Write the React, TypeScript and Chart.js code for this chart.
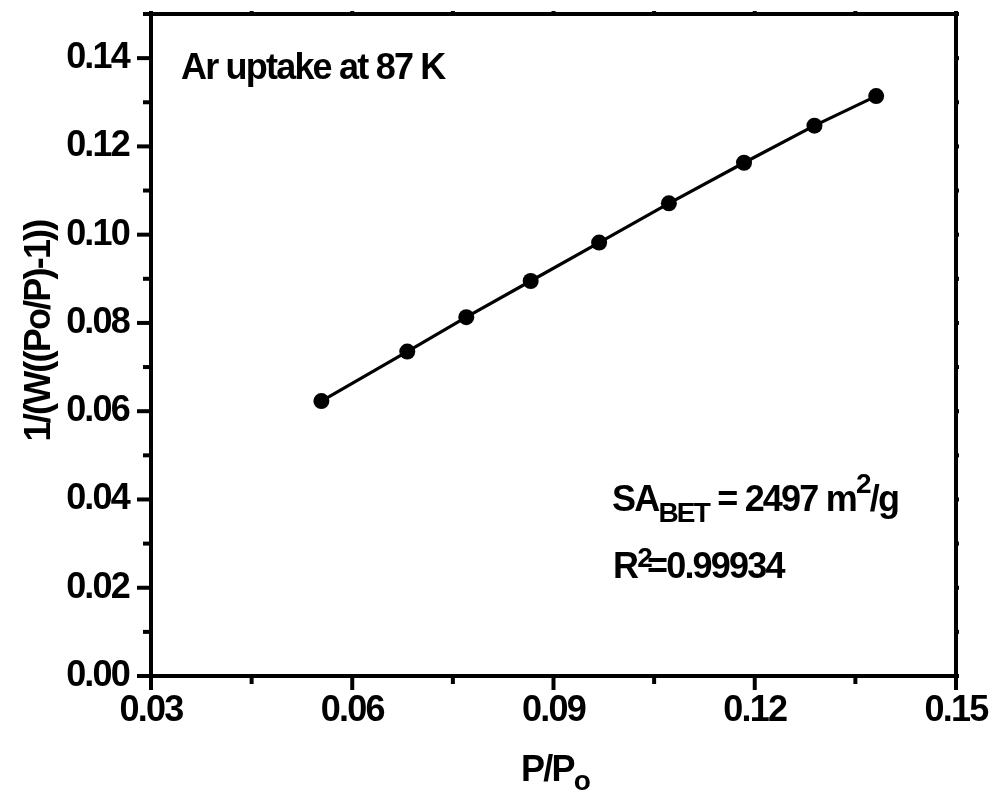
import React, { useEffect, useRef } from 'react';
import { Chart, registerables } from 'chart.js';

Chart.register(...registerables);

// P/Po values (x) and 1/(W((Po/P)-1)) values (y)
const pressureRatio = [0.0554, 0.0682, 0.077, 0.0866, 0.0968, 0.1072, 0.1184, 0.1289, 0.1381];
const betValue = [0.0623, 0.0735, 0.0813, 0.0895, 0.0982, 0.1071, 0.1163, 0.1247, 0.1314];
const xTickLabels = ['0.03', '0.06', '0.09', '0.12', '0.15'];
const yTickLabels = ['0.00', '0.02', '0.04', '0.06', '0.08', '0.10', '0.12', '0.14'];

const FAMILY = '"Liberation Sans", Arial, Helvetica, sans-serif';
const SPACING = '-1.8px';

type Part = [string, number, number, number?];

function drawSeq(ctx: CanvasRenderingContext2D, x: number, baseline: number, parts: Part[]) {
  let cx = x;
  for (const [t, size, dy, dx] of parts) {
    cx += dx || 0;
    ctx.font = `bold ${size}px ${FAMILY}`;
    ctx.fillText(t, cx, baseline + dy);
    cx += ctx.measureText(t).width;
  }
}

const framePlugin = {
  id: 'frame',
  beforeDraw(chart: any) {
    (chart.ctx as any).letterSpacing = SPACING;
  },
  afterDraw(chart: any) {
    const ctx: CanvasRenderingContext2D = chart.ctx;
    const a = chart.chartArea;
    const xs = chart.scales.x;
    const ys = chart.scales.y;
    ctx.save();
    (ctx as any).letterSpacing = SPACING;
    ctx.strokeStyle = '#000';
    ctx.fillStyle = '#000';
    ctx.lineWidth = 4;
    ctx.lineCap = 'butt';
    const line = (x1: number, y1: number, x2: number, y2: number) => {
      ctx.beginPath();
      ctx.moveTo(x1, y1);
      ctx.lineTo(x2, y2);
      ctx.stroke();
    };
    // ticks
    xs.ticks.forEach((t: any) => {
      const px = xs.getPixelForValue(t.value);
      const major = !!t.label;
      line(px, a.bottom, px, a.bottom + (major ? 14 : 8));
      line(px, a.top, px, a.top - 3);
    });
    ys.ticks.forEach((t: any) => {
      const py = ys.getPixelForValue(t.value);
      const major = !!t.label;
      line(a.left, py, a.left - (major ? 14 : 8), py);
      line(a.right, py, a.right + 3, py);
    });
    // frame
    ctx.strokeRect(a.left, a.top, a.right - a.left, a.bottom - a.top);

    // texts
    ctx.textAlign = 'left';
    ctx.textBaseline = 'alphabetic';
    drawSeq(ctx, 181, 79, [['Ar uptake at 87 K', 36, 0]]);
    drawSeq(ctx, 612, 511, [
      ['SA', 36, 0],
      ['BET', 28, 10.7],
      [' = 2497 m', 36, 0],
      ['2', 28, -18.3],
      ['/g', 36, 0],
    ]);
    drawSeq(ctx, 613, 578, [
      ['R', 36, 0],
      ['2', 28, -10.7],
      ['=0.99934', 36, 0, -4],
    ]);
    // x title
    drawSeq(ctx, 521, 781, [
      ['P/P', 36, 0],
      ['o', 28, 9],
    ]);
    // y title
    ctx.save();
    ctx.translate(50, 331);
    ctx.rotate(-Math.PI / 2);
    ctx.textAlign = 'center';
    ctx.font = `bold 36px ${FAMILY}`;
    ctx.fillText('1/(W((Po/P)-1))', 0, 0);
    ctx.restore();

    ctx.restore();
    (ctx as any).letterSpacing = '0px';
  },
};

const zeroPad = (s: any) => {
  s.paddingTop = 0;
  s.paddingBottom = 0;
  s.paddingLeft = 0;
  s.paddingRight = 0;
};

export default function App() {
  const ref = useRef<HTMLCanvasElement | null>(null);

  useEffect(() => {
    document.body.style.margin = '0';
    const canvas = ref.current;
    if (!canvas) return;
    const tickFont = { family: FAMILY, size: 36, weight: 'bold' as const };
    const chart = new Chart(canvas, {
      type: 'scatter',
      data: {
        datasets: [
          {
            label: 'BET',
            data: pressureRatio.map((x, i) => ({ x, y: betValue[i] })),
            showLine: true,
            borderColor: '#000',
            backgroundColor: '#000',
            borderWidth: 3.2,
            pointRadius: 8,
            pointBorderWidth: 0,
            pointBackgroundColor: '#000',
            tension: 0,
          },
        ],
      },
      options: {
        responsive: false,
        devicePixelRatio: 1,
        animation: false,
        layout: { padding: { left: 0, top: 14, right: 39, bottom: 0 } },
        plugins: {
          legend: { display: false },
          tooltip: { enabled: false },
        },
        scales: {
          x: {
            type: 'linear',
            min: 0.03,
            max: 0.15,
            grid: { display: false, drawTicks: false },
            border: { display: false },
            afterFit: (s: any) => {
              s.height = 121;
              zeroPad(s);
            },
            ticks: {
              stepSize: 0.015,
              autoSkip: false,
              maxRotation: 0,
              padding: 13,
              color: '#000',
              font: tickFont,
              callback: (v: any) => {
                const l = Number(v).toFixed(2);
                return xTickLabels.includes(l) && Math.abs(Number(v) - Number(l)) < 1e-6 ? l : '';
              },
            },
          },
          y: {
            type: 'linear',
            min: 0,
            max: 0.15,
            grid: { display: false, drawTicks: false },
            border: { display: false },
            afterFit: (s: any) => {
              s.width = 151;
              zeroPad(s);
            },
            ticks: {
              stepSize: 0.01,
              autoSkip: false,
              padding: 22,
              color: '#000',
              font: tickFont,
              callback: (v: any) => {
                const l = Number(v).toFixed(2);
                return yTickLabels.includes(l) && Math.abs(Number(v) - Number(l)) < 1e-6 ? l : '';
              },
            },
          },
        },
      },
      plugins: [framePlugin],
    });
    return () => chart.destroy();
  }, []);

  return <canvas ref={ref} width={995} height={797} style={{ display: 'block' }} />;
}
